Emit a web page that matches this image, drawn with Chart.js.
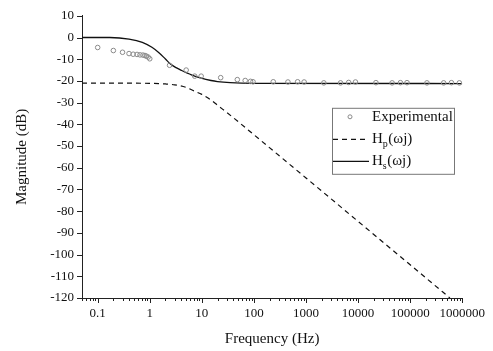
<!DOCTYPE html>
<html>
<head>
<meta charset="utf-8">
<script src="https://cdn.jsdelivr.net/npm/chart.js@4.4.0/dist/chart.umd.min.js"></script>
<style>
    html, body { margin: 0; padding: 0; background: #fff; }
</style>
</head>
<body>
<canvas id="bodeChart" width="493" height="351"></canvas>
<script>
// measured points
const expFreq = [0.1, 0.2, 0.3, 0.4, 0.48, 0.57, 0.65, 0.74, 0.81, 0.86, 0.93, 1.0, 2.4, 5.0, 7.3, 9.7, 23, 48, 68, 86,
    96, 235, 450, 690, 920, 2200, 4600, 6600, 8900, 22000, 45000, 65000, 87000, 210000, 440000, 620000, 880000];
const expDb = [-4.6, -6.0, -6.8, -7.4, -7.7, -7.8, -8.0, -8.1, -8.3, -8.6, -9.0, -9.8, -12.8, -15.0, -17.8, -17.8, -18.5, -19.4, -19.8, -20.2,
    -20.4, -20.4, -20.5, -20.4, -20.5, -20.9, -20.9, -20.7, -20.5, -20.8, -20.9, -20.8, -20.8, -20.9, -20.9, -20.8, -20.9];

// Hp(wj) - dashed
const hpFreq = [0.05, 1, 2, 3, 5, 7, 10, 15, 20, 30, 50, 100, 1000, 10000, 100000, 580000];
const hpDb = [-21, -21.1, -21.4, -21.8, -23.0, -24.6, -26.2, -28.8, -31.2, -34.5, -38.8, -44.8, -64.7, -84.7, -104.7, -120];

// Hs(wj) - solid
const hsFreq = [0.05, 0.17, 0.4, 0.72, 1.1, 1.5, 2.0, 2.5, 3.2, 4.1, 6.3, 9.7, 15, 20, 35, 100, 1000000];
const hsDb = [0, 0, -0.7, -2.2, -4.5, -7.0, -9.9, -12.2, -13.9, -15.2, -17.2, -18.7, -19.8, -20.3, -20.8, -21.1, -21.2];

const xTickLabels = [0.1, 1, 10, 100, 1000, 10000, 100000, 1000000];
const yTickLabels = [10, 0, -10, -20, -30, -40, -50, -60, -70, -80, -90, -100, -110, -120];
const seriesLabels = ['Experimental', 'H_p(ωj)', 'H_s(ωj)'];

const X_MIN = 0.05, X_MAX = 1000000;
const SERIF = "'Liberation Serif', 'Times New Roman', serif";

const pts = (xs, ys) => xs.map((x, i) => ({ x: x, y: ys[i] }));
const isDecade = v => Math.abs(Math.log10(v) - Math.round(Math.log10(v))) < 1e-9;

// outward tick marks, long on labelled ticks and short on the others
const tickMarks = {
    id: 'tickMarks',
    afterDraw(chart) {
        const { ctx, chartArea, scales: { x, y } } = chart;
        ctx.save();
        ctx.strokeStyle = '#222';
        ctx.lineWidth = 1;
        x.ticks.forEach(t => {
            const px = Math.round(x.getPixelForValue(t.value)) + 0.5;
            const len = isDecade(t.value) ? 5 : 3;
            ctx.beginPath();
            ctx.moveTo(px, chartArea.bottom);
            ctx.lineTo(px, chartArea.bottom + len);
            ctx.stroke();
        });
        y.ticks.forEach(t => {
            const py = Math.round(y.getPixelForValue(t.value)) + 0.5;
            const len = yTickLabels.includes(t.value) ? 5 : 3;
            ctx.beginPath();
            ctx.moveTo(chartArea.left, py);
            ctx.lineTo(chartArea.left - len, py);
            ctx.stroke();
        });
        ctx.restore();
    }
};

// boxed legend with subscripts
const boxLegend = {
    id: 'boxLegend',
    afterDraw(chart) {
        const { ctx, chartArea } = chart;
        const bx = chartArea.left + 250, by = chartArea.top + 92, bw = 122, bh = 66;
        ctx.save();
        ctx.fillStyle = '#fff';
        ctx.fillRect(bx, by, bw, bh);
        ctx.strokeStyle = '#777';
        ctx.lineWidth = 1;
        ctx.strokeRect(bx + 0.5, by + 0.5, bw, bh);

        chart.data.datasets.forEach((ds, i) => {
            const cy = by + 9 + i * 22;
            ctx.strokeStyle = ds.borderColor;
            ctx.lineWidth = ds.borderWidth;
            if (ds.showLine === false) {
                ctx.beginPath();
                ctx.arc(bx + 18, cy, 2, 0, Math.PI * 2);
                ctx.stroke();
            } else {
                ctx.setLineDash(ds.borderDash || []);
                ctx.beginPath();
                ctx.moveTo(bx + 1, cy + 0.5);
                ctx.lineTo(bx + 37, cy + 0.5);
                ctx.stroke();
                ctx.setLineDash([]);
            }
            const parts = seriesLabels[i].split('_');
            ctx.fillStyle = '#111';
            ctx.textBaseline = 'middle';
            ctx.font = '15px ' + SERIF;
            let tx = bx + 40;
            ctx.fillText(parts[0], tx, cy);
            if (parts.length > 1) {
                tx += ctx.measureText(parts[0]).width;
                const sub = parts[1].charAt(0);
                ctx.font = '10px ' + SERIF;
                ctx.fillText(sub, tx, cy + 6);
                tx += ctx.measureText(sub).width + 0.5;
                ctx.font = '15px ' + SERIF;
                ctx.fillText(parts[1].slice(1), tx, cy);
            }
        });
        ctx.restore();
    }
};

Chart.defaults.font.family = SERIF;
Chart.defaults.color = '#111';

new Chart(document.getElementById('bodeChart'), {
    type: 'line',
    data: {
        datasets: [
            {
                label: seriesLabels[0],
                data: pts(expFreq, expDb),
                showLine: false,
                pointStyle: 'circle',
                pointRadius: 2.3,
                pointBorderWidth: 1,
                borderColor: '#8a8a8a',
                borderWidth: 1,
                pointBorderColor: '#8a8a8a',
                pointBackgroundColor: 'rgba(255,255,255,0)',
            },
            {
                label: seriesLabels[1],
                data: pts(hpFreq, hpDb),
                borderColor: '#111',
                borderWidth: 1.2,
                borderDash: [5, 4],
                pointRadius: 0,
                cubicInterpolationMode: 'monotone',
            },
            {
                label: seriesLabels[2],
                data: pts(hsFreq, hsDb),
                borderColor: '#111',
                borderWidth: 1.3,
                pointRadius: 0,
                cubicInterpolationMode: 'monotone',
            }
        ]
    },
    options: {
        responsive: false,
        animation: false,
        devicePixelRatio: 1,
        layout: { padding: { left: 0, right: 24, top: 13, bottom: 0 } },
        plugins: {
            legend: { display: false },
            tooltip: { enabled: false }
        },
        scales: {
            x: {
                type: 'logarithmic',
                min: X_MIN,
                max: X_MAX,
                grid: { display: false, drawTicks: false },
                border: { display: true, color: '#222', width: 1 },
                afterBuildTicks: scale => {
                    const decades = [xTickLabels[0] / 10, ...xTickLabels];
                    const ticks = [];
                    decades.forEach(d => {
                        for (let k = 1; k <= 9; k++) {
                            const v = parseFloat((d * k).toPrecision(6));
                            if (v >= X_MIN && v <= X_MAX) ticks.push({ value: v });
                        }
                    });
                    scale.ticks = ticks;
                },
                afterFit: scale => { scale.height = 53; },
                ticks: {
                    autoSkip: false,
                    maxRotation: 0,
                    padding: 8,
                    font: { size: 13 },
                    callback: v => xTickLabels.some(t => Math.abs(t - v) < t * 1e-6) ? String(v) : ''
                },
                title: {
                    display: true,
                    text: 'Frequency (Hz)',
                    font: { size: 15 },
                    padding: { top: 0, bottom: 3 }
                }
            },
            y: {
                min: -120,
                max: 10,
                grid: { display: false, drawTicks: false },
                border: { display: true, color: '#222', width: 1 },
                afterFit: scale => { scale.width = 82; },
                ticks: {
                    stepSize: 5,
                    padding: 8,
                    font: { size: 13 },
                    callback: v => yTickLabels.includes(v) ? String(v) : ''
                },
                title: {
                    display: true,
                    text: 'Magnitude (dB)',
                    font: { size: 15 },
                    padding: { top: 13, bottom: 0 }
                }
            }
        }
    },
    plugins: [tickMarks, boxLegend]
});
</script>
</body>
</html>
